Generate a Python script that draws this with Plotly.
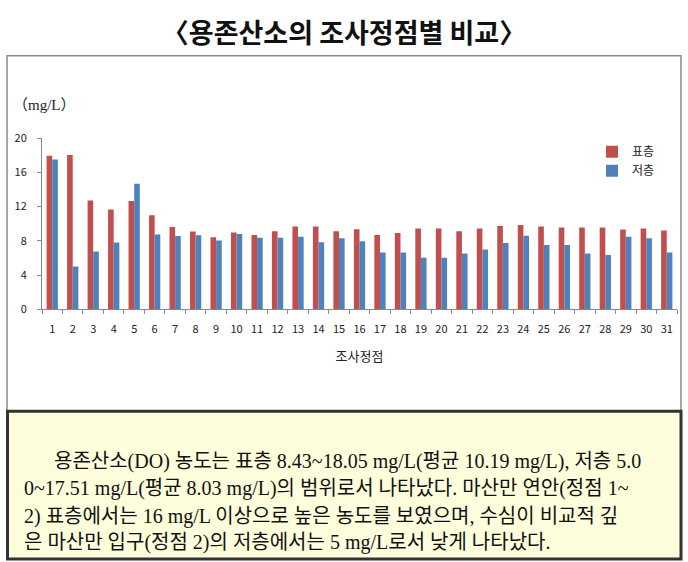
import plotly.graph_objects as go

stations = [str(i) for i in range(1, 32)]
surface = [17.95, 18.05, 12.7, 11.67, 12.65, 11.0, 9.62, 9.09, 8.43, 8.98,
           8.67, 9.13, 9.66, 9.66, 9.13, 9.36, 8.67, 8.9, 9.43, 9.43,
           9.13, 9.43, 9.73, 9.85, 9.66, 9.55, 9.55, 9.55, 9.32, 9.43, 9.2]
bottom = [17.51, 5.0, 6.75, 7.8, 14.66, 8.75, 8.56, 8.64, 8.03, 8.79,
          8.37, 8.37, 8.48, 7.84, 8.3, 7.95, 6.63, 6.63, 6.02, 6.02,
          6.52, 6.97, 7.73, 8.6, 7.5, 7.5, 6.52, 6.33, 8.48, 8.3, 6.63]
y_ticks = [0, 4, 8, 12, 16, 20]
series_names = ["표층", "저층"]

W, H = 688, 562
def px(x):
    return x / W
def py(y):
    return 1 - y / H

SANS = "Noto Sans CJK KR"
MIXED = "Liberation Serif, Noto Sans CJK KR"

fig = go.Figure()
fig.add_trace(go.Bar(x=stations, y=surface, name=series_names[0],
                     marker=dict(color="#C0504D", line=dict(width=0))))
fig.add_trace(go.Bar(x=stations, y=bottom, name=series_names[1],
                     marker=dict(color="#4F81BD", line=dict(width=0))))

text_lines = [
    "용존산소(DO) 농도는 표층 8.43~18.05 mg/L(평균 10.19 mg/L), 저층 5.0",
    "0~17.51 mg/L(평균 8.03 mg/L)의 범위로서 나타났다. 마산만 연안(정점 1~",
    "2) 표층에서는 16 mg/L 이상으로 높은 농도를 보였으며, 수심이 비교적 깊",
    "은 마산만 입구(정점 2)의 저층에서는 5 mg/L로서 낮게 나타났다.",
]
line_y = [466, 494, 522, 549]
line_x = [52, 22, 22, 22]

annotations = [
    dict(text="（mg/L）", x=px(11), y=py(99), xref="paper", yref="paper",
         xanchor="left", yanchor="middle", showarrow=False,
         font=dict(family=MIXED, size=15, color="#222")),
]
for t, yy, xx in zip(text_lines, line_y, line_x):
    annotations.append(dict(text=t, x=px(xx), y=py(yy), xref="paper", yref="paper",
                            xanchor="left", yanchor="middle", showarrow=False,
                            font=dict(family=MIXED, size=20, color="#111")))

shapes = [
    dict(type="rect", xref="paper", yref="paper", x0=px(7), x1=px(681),
         y0=py(414), y1=py(48), line=dict(color="#8a8a8a", width=1.5),
         fillcolor="rgba(0,0,0,0)", layer="below"),
    dict(type="rect", xref="paper", yref="paper", x0=px(7.5), x1=px(681),
         y0=py(566), y1=py(414), line=dict(color="#333333", width=3),
         fillcolor="#FEFEDC", layer="below"),
]

fig.update_layout(
    width=W, height=H,
    margin=dict(l=0, r=0, t=0, b=0),
    paper_bgcolor="white", plot_bgcolor="white",
    barmode="group", bargap=0.45, bargroupgap=0,
    title=dict(text="<b>〈용존산소의 조사정점별 비교〉</b>", x=0.5, xanchor="center",
               y=py(25), yanchor="middle", xref="paper", yref="paper",
               font=dict(family=SANS, size=27, color="#111")),
    xaxis=dict(domain=[px(42), px(677)], type="category",
               showline=True, linecolor="#888", linewidth=1,
               ticks="outside", tickson="boundaries", ticklen=4, tickcolor="#888",
               tickangle=0, ticklabelstandoff=10,
               tickfont=dict(family=SANS, size=11, color="#222"),
               showgrid=False, zeroline=False,
               title=dict(text="조사정점", standoff=16,
                          font=dict(family=SANS, size=13, color="#222"))),
    yaxis=dict(domain=[py(309), py(133)], range=[0, 20],
               tickvals=y_ticks, showline=True, linecolor="#888", linewidth=1,
               ticks="outside", ticklen=4, tickcolor="#888",
               ticklabelstandoff=8,
               tickfont=dict(family=SANS, size=11, color="#222"),
               showgrid=False, zeroline=False),
    legend=dict(x=px(592), y=py(132), xanchor="left", yanchor="top",
                font=dict(family=SANS, size=12, color="#222"),
                bgcolor="rgba(0,0,0,0)", tracegroupgap=0),
    annotations=annotations,
    shapes=shapes,
)

fig.write_html("out.html")
